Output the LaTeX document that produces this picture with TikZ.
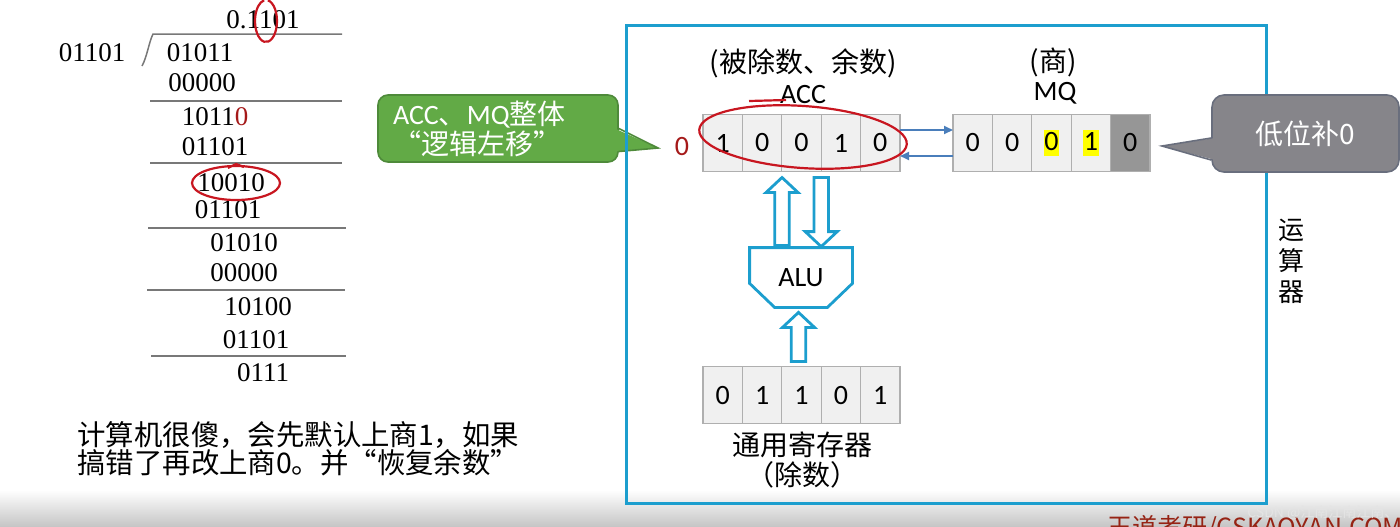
\documentclass[tikz,border=0pt]{standalone}
\usepackage{fontspec}
\setmainfont{Carlito}
\newfontfamily\zh{Noto Sans CJK SC}
\newfontfamily\tms{Liberation Serif}
\usetikzlibrary{positioning,calc,arrows.meta}

\definecolor{framecyan}{RGB}{28,158,206}
\definecolor{cellfill}{RGB}{240,240,240}
\definecolor{cellline}{RGB}{175,175,175}
\definecolor{celldark}{RGB}{150,150,150}
\definecolor{linkblue}{RGB}{74,126,187}
\definecolor{notegreen}{RGB}{98,170,70}
\definecolor{notegreenline}{RGB}{78,138,58}
\definecolor{notegray}{RGB}{134,133,138}
\definecolor{notegrayline}{RGB}{105,110,125}
\definecolor{inkred}{RGB}{200,22,32}
\definecolor{darkred}{RGB}{165,25,25}
\definecolor{rulegray}{RGB}{120,120,120}
\definecolor{markyellow}{RGB}{255,255,0}
\definecolor{wdred}{RGB}{150,35,20}
\definecolor{bandgray}{RGB}{198,198,198}
\definecolor{csdnwhite}{RGB}{228,228,228}

\newcommand{\hl}[1]{{\setlength{\fboxsep}{0.4pt}\colorbox{markyellow}{\rule[-2.2pt]{0pt}{12pt}#1}}}
\newcommand{\blockarrow}[3]{%
  \draw[blockline] let \p1=(#1), \p2=(#2) in
    ({\x1-3.6pt},\y1) -- ({\x1-3.6pt},{\y2-(#3)}) -- ({\x1-8pt},{\y2-(#3)}) -- (\x1,\y2)
    -- ({\x1+8pt},{\y2-(#3)}) -- ({\x1+3.6pt},{\y2-(#3)}) -- ({\x1+3.6pt},\y1) -- cycle;}

\begin{document}
\begin{tikzpicture}[x=0.5pt, y=-0.5pt,
  num/.style={font=\tms\fontsize{13.5}{14}\selectfont, inner sep=0pt},
  divrule/.style={draw=rulegray, line width=0.75pt},
  cell/.style={draw=cellline, fill=cellfill, line width=0.6pt, minimum width=19.7pt,
               minimum height=28.5pt, inner sep=0pt, outer sep=0pt, font=\fontsize{14}{14}\selectfont},
  darkcell/.style={cell, fill=celldark},
  zhtext/.style={font=\zh\fontsize{14}{15}\selectfont, inner sep=0pt},
  regtitle/.style={font=\fontsize{14}{14}\selectfont, inner sep=0pt},
  blockline/.style={draw=framecyan, line width=1.4pt, fill=white, line join=miter},
  link/.style={draw=linkblue, line width=0.9pt, -{Triangle[length=4.5pt,width=4pt]}},
  inkmark/.style={draw=inkred, line width=1.1pt},
  gnote/.style={fill=notegreen, draw=notegreenline, line width=0.8pt, rounded corners=5pt,
                text=white, text width=105pt, align=left, minimum height=33.5pt,
                inner xsep=7.5pt, inner ysep=0pt, font=\fontsize{14}{15}\selectfont},
  graynote/.style={fill=notegray, draw=notegrayline, line width=0.8pt, rounded corners=6pt,
                   text=white, minimum width=93.5pt, minimum height=38.5pt, inner sep=0pt,
                   font=\zh\fontsize{14}{15}\selectfont}
]
\useasboundingbox (0,0) rectangle (1400,526);

\begin{scope}
  \clip (0,0) rectangle (1400,526);
  \shade[top color=white, bottom color=bandgray] (0,490) rectangle (1400,526);
  \node[anchor=base west, inner sep=0pt, text=wdred, font=\zh\fontsize{12.5}{13}\selectfont] (brand) at (1107,536) {王道考研/CSKAOYAN.COM};
  \node[anchor=west, inner sep=0pt, text=csdnwhite, font=\zh\fontsize{7}{8}\selectfont] (csdn) at (1247,513) {CSDN @江南江南江南、};
\end{scope}

\node[num] (divisor) at (92,53) {01101};
\node[num] (quot) at (263,20) {0.1101};
\node[num] (rem0) at (200,53) {01011};
\node[num] (sub0) at (202,83) {00000};
\node[num] (rem1) at (215,117) {1011\textcolor{darkred}{0}};
\node[num] (sub1) at (215,147) {01101};
\node[num] (rem2) at (231,183) {10010};
\node[num] (sub2) at (228,210) {01101};
\node[num] (rem3) at (244,243) {01010};
\node[num] (sub3) at (244,273) {00000};
\node[num] (rem4) at (258,307) {10100};
\node[num] (sub4) at (256,340) {01101};
\node[num] (rem5) at (263,373) {0111};

\draw[divrule] (142,66) .. controls (147,57) and (149,42) .. (153,34) -- (342,34);
\draw[divrule] (150,101) -- (342,101);
\draw[divrule] (150,163) -- (342,163);
\draw[divrule] (148,228) -- (346,228);
\draw[divrule] (147,290) -- (345,290);
\draw[divrule] (151,356) -- (346,356);

\node[zhtext, anchor=west, align=left, font=\zh\fontsize{14.2}{14.2}\selectfont] (remark) at (77,449)
  {计算机很傻，会先默认上商1，如果\\搞错了再改上商0。并“恢复余数”};

\node[gnote] (shiftnote) at (498,128.5) {ACC{\zh 、}MQ{\zh 整体}\\{\zh “逻辑左移”}};
\coordinate (shifttip) at (658,148);
\fill[notegreen] ([xshift=-2pt]shiftnote.east) -- (shifttip) -- ([xshift=-2pt,yshift=-11.5pt]shiftnote.east) -- cycle;
\draw[notegreenline, line width=0.8pt] (shiftnote.east) -- (shifttip) -- ([yshift=-11.5pt]shiftnote.east);

\draw[framecyan, line width=1.5pt] (626,25) rectangle (1266,503);
\node[zhtext, align=center, font=\zh\fontsize{13}{15.5}\selectfont] (unitname) at (1291,261) {运\\算\\器};

\node[zhtext] (accrole) at (803,63) {(被除数、余数)};
\node[regtitle] (acctitle) at (803,95) {ACC};
\node[zhtext] (mqrole) at (1053,62) {(商)};
\node[regtitle] (mqtitle) at (1055,93) {MQ};
\node[regtitle, text=darkred] (carry) at (682,147) {0};

\foreach \v [count=\i] in {1,0,0,1,0}
  \node[cell] (acc\i) at ({683.3+39.4*\i},143) {\v};
\foreach \v/\s [count=\i] in {0/cell,0/cell,{\hl{0}}/cell,{\hl{1}}/cell,0/darkcell}
  \node[\s] (mq\i) at ({933.3+39.4*\i},143) {\v};
\foreach \v [count=\i] in {0,1,1,0,1}
  \node[cell] (gr\i) at ({683.3+39.4*\i},395) {\v};

\draw[link] ([yshift=6.5pt]acc5.east) -- ([yshift=6.5pt]acc5.east -| mq1.west);
\draw[link] ([yshift=-6.5pt]mq1.west) -- ([yshift=-6.5pt]mq1.west -| acc5.east);

\node[regtitle] (alu) at (801,277.5) [minimum width=51pt, minimum height=29.5pt] {ALU};
\draw[blockline, fill=none] (alu.north west) -- (alu.north east) -- ($(alu.south east)+(0,-24)$)
  -- ($(alu.south east)+(-25,0)$) -- ($(alu.south west)+(25,0)$) -- ($(alu.south west)+(0,-24)$) -- cycle;

\blockarrow{$(alu.north)+(-19,-2)$}{$(acc2.south east)+(0,6)$}{7.5pt}
\blockarrow{$(acc3.south east)+(0,6)$}{$(alu.north)+(21,-1)$}{-7.5pt}
\blockarrow{$(gr3.north)+(-3,-5)$}{$(alu.south)+(-2,5)$}{7.5pt}

\node[zhtext] (regname) at (802,445) {通用寄存器};
\node[zhtext] (regrole) at (802,475) {（除数）};

\node[graynote] (fillnote) at (1305.5,133.5) {低位补0};
\coordinate (filltip) at (1162,146);
\fill[notegray] ([xshift=2pt,yshift=-2.25pt]fillnote.west) -- (filltip) -- ([xshift=2pt,yshift=-13.25pt]fillnote.west) -- cycle;
\draw[notegrayline, line width=0.8pt] ([yshift=-2.25pt]fillnote.west) -- (filltip) -- ([yshift=-13.25pt]fillnote.west);

\draw[inkmark] (266,21) ++(-80:11 and 21) arc[start angle=-80, end angle=260, x radius=11, y radius=21];
\draw[inkmark] (236,183) ellipse[x radius=44, y radius=17];
\draw[inkmark] (228,168) -- (236,164) -- (244,167);
\draw[inkmark, rotate around={-4:(803,137)}] (803,137) ellipse[x radius=104, y radius=31];
\draw[inkmark] (749,101) -- (786,100);
\end{tikzpicture}
\end{document}
